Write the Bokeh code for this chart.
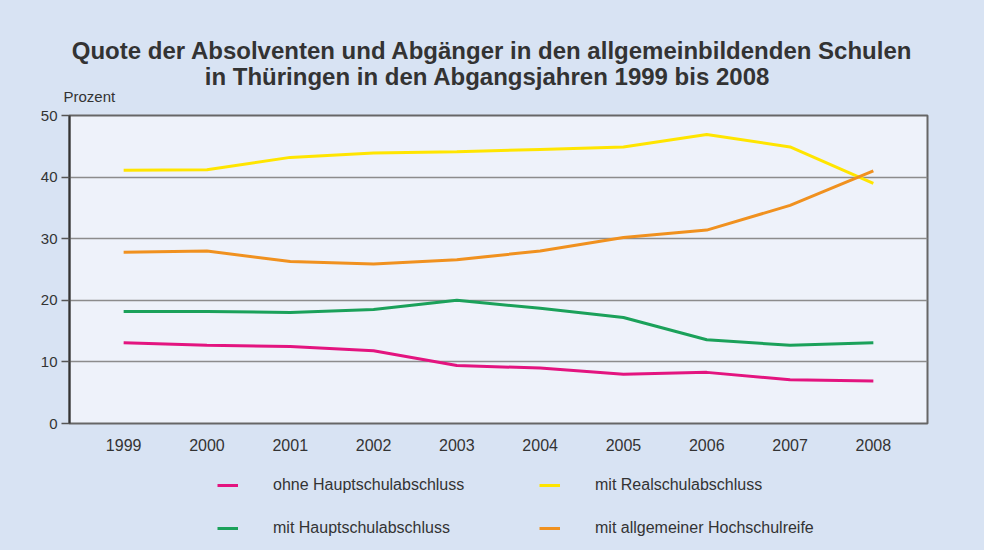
from bokeh.plotting import figure
from bokeh.layouts import column
from bokeh.models import Legend, LegendItem, FixedTicker, Range1d, FactorRange, Label, Plot
from bokeh.embed import file_html
from bokeh.resources import INLINE

years = ["1999", "2000", "2001", "2002", "2003", "2004", "2005", "2006", "2007", "2008"]
ohne_haupt = [13.1, 12.7, 12.5, 11.8, 9.4, 9.0, 8.0, 8.3, 7.1, 6.9]
mit_haupt = [18.2, 18.2, 18.0, 18.5, 20.0, 18.7, 17.2, 13.6, 12.7, 13.1]
mit_real = [41.1, 41.2, 43.2, 43.9, 44.1, 44.5, 44.9, 46.9, 44.9, 39.0]
mit_abi = [27.8, 28.0, 26.3, 25.9, 26.6, 28.0, 30.2, 31.4, 35.4, 41.0]
y_ticks = [0, 10, 20, 30, 40, 50]

series_names = ["ohne Hauptschulabschluss", "mit Hauptschulabschluss",
                "mit Realschulabschluss", "mit allgemeiner Hochschulreife"]
series_values = [ohne_haupt, mit_haupt, mit_real, mit_abi]
colors = ["#E3147F", "#1BA15A", "#FFE500", "#F0911F"]

title_lines = ["Quote der Absolventen und Abgänger in den allgemeinbildenden Schulen",
               "in Thüringen in den Abgangsjahren 1999 bis 2008"]
unit_text = "Prozent"

FONT = "Liberation Sans"
TXT = "#333333"
OUTER = "#D8E3F3"
W = 984
HAS_FRAME_ALIGN = "frame_align" in Plot.properties()


def blank(height, **kw):
    f = figure(width=W, height=height, output_backend="svg", toolbar_location=None,
               x_axis_location=None, y_axis_location=None, min_border=0,
               min_border_left=0, min_border_right=0, min_border_top=0,
               min_border_bottom=0, **kw)
    if HAS_FRAME_ALIGN:
        f.frame_align = False
    f.border_fill_color = OUTER
    f.background_fill_color = OUTER
    f.outline_line_color = None
    f.grid.visible = False
    return f


# --- header with title and unit -------------------------------------------
p_top = blank(107)
p_top.add_layout(Label(x=492, y=57, x_units="screen", y_units="screen", text=title_lines[0],
                       text_font=FONT, text_font_size="24px", text_font_style="bold",
                       text_color=TXT, text_align="center", text_baseline="alphabetic"))
p_top.add_layout(Label(x=487, y=31, x_units="screen", y_units="screen", text=title_lines[1],
                       text_font=FONT, text_font_size="24px", text_font_style="bold",
                       text_color=TXT, text_align="center", text_baseline="alphabetic"))
p_top.add_layout(Label(x=63, y=11, x_units="screen", y_units="screen", text=unit_text,
                       text_font=FONT, text_font_size="15px", text_color=TXT,
                       text_align="left", text_baseline="alphabetic"))

# --- main chart -------------------------------------------------------------
p = figure(width=W, height=363, x_range=FactorRange(*years, range_padding=0.03),
           y_range=Range1d(0, 50), output_backend="svg", toolbar_location=None,
           min_border_left=69, min_border_right=57, min_border_top=8,
           min_border_bottom=47)
if HAS_FRAME_ALIGN:
    p.frame_align = False
p.border_fill_color = OUTER
p.background_fill_color = "#EEF2FA"
p.outline_line_color = "#666666"
p.outline_line_width = 2

p.xgrid.grid_line_color = None
p.ygrid.grid_line_color = "#8C8C8C"
p.ygrid.grid_line_width = 1.3
p.ygrid.ticker = FixedTicker(ticks=y_ticks)

p.yaxis.ticker = FixedTicker(ticks=y_ticks)
p.yaxis.axis_line_color = "#333333"
p.yaxis.axis_line_width = 2
p.yaxis.major_tick_line_color = "#555555"
p.yaxis.major_tick_line_width = 1.5
p.yaxis.major_tick_out = 8
p.yaxis.major_tick_in = 0
p.yaxis.minor_tick_line_color = None
p.yaxis.major_label_standoff = 4
p.yaxis.major_label_text_font = FONT
p.yaxis.major_label_text_font_size = "15px"
p.yaxis.major_label_text_color = TXT

p.xaxis.axis_line_color = None
p.xaxis.major_tick_line_color = None
p.xaxis.minor_tick_line_color = None
p.xaxis.major_label_standoff = 9
p.xaxis.major_label_text_font = FONT
p.xaxis.major_label_text_font_size = "16px"
p.xaxis.major_label_text_color = TXT

for vals, col in zip(series_values, colors):
    p.line(years, vals, line_color=col, line_width=3)

# --- legend strip (proxy renderers hidden, only their legend glyphs show) ----
p_leg = blank(80, x_range=FactorRange(*years), y_range=Range1d(0, 50))
items = []
for name, vals, col in zip(series_names, series_values, colors):
    proxy = p_leg.line(years, vals, line_color=col, line_width=3, visible=False)
    items.append(LegendItem(label=name, renderers=[proxy]))
legend = Legend(items=items, ncols=2, location=(217, 12), padding=0, margin=0,
                border_line_alpha=0, background_fill_alpha=0,
                inactive_fill_alpha=0, click_policy="none",
                glyph_width=21, glyph_height=20, label_height=20, label_width=243,
                label_standoff=35, spacing=23,
                label_text_font=FONT, label_text_font_size="16px", label_text_color=TXT)
p_leg.add_layout(legend, "center")

layout = column(p_top, p, p_leg, spacing=0, styles={"background-color": OUTER})
open("out.html", "w").write(file_html(layout, INLINE))
